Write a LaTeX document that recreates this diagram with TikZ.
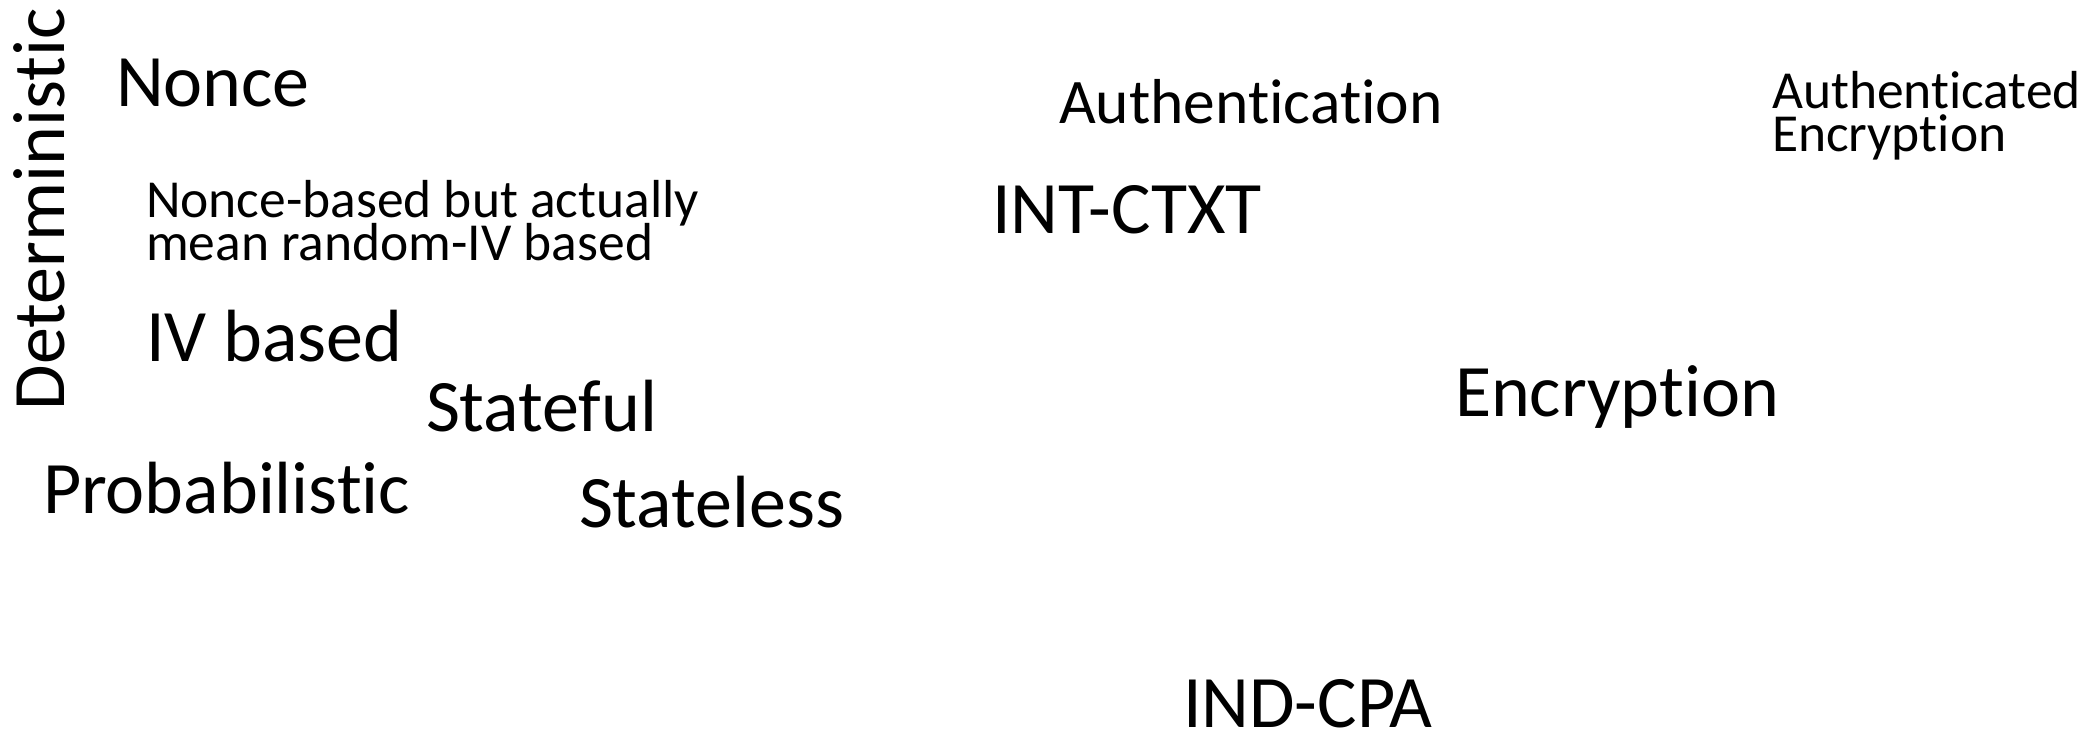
\documentclass[tikz,border=0pt]{standalone}
\usepackage{fontspec}
\setmainfont[RawFeature={-liga}]{Carlito}
\begin{document}
\begin{tikzpicture}[x=1pt,y=-1pt,
  lbl/.style={anchor=base west,inner sep=0pt,outer sep=0pt,text=black},
  big/.style={lbl,font=\fontsize{74}{80}\selectfont},
  mid/.style={lbl,font=\fontsize{63.5}{70}\selectfont},
  small/.style={lbl,font=\fontsize{53.5}{58}\selectfont}]
\fill[white] (0,0) rectangle (2090,733);
\useasboundingbox (0,0) rectangle (2090,733);

% left column: nonce / IV / state classes
\node[big,rotate=90] (det) at (64,410) {Deterministic};
\node[big] (nonce) at (116,107) {Nonce};
\node[small] (nbA) at (146,217) {Nonce-based but actually};
\node[small] (nbB) at (146,260) {mean random-IV based};
\node[big] (iv) at (146,361) {IV based};
\node[big] (sful) at (426,431) {Stateful};
\node[big] (prob) at (43,513) {Probabilistic};
\node[big] (sless) at (579,527) {Stateless};

% right part: security notions
\node[mid] (auth) at (1059,124) {Authentication};
\node[big] (intctxt) at (992,233) {INT-CTXT};
\node[small] (aeA) at (1772,109) {Authenticated};
\node[small] (aeB) at (1772,151) {Encryption};
\node[big] (enc) at (1455,416) {Encryption};
\node[big] (indcpa) at (1183,727) {IND-CPA};
\end{tikzpicture}
\end{document}
